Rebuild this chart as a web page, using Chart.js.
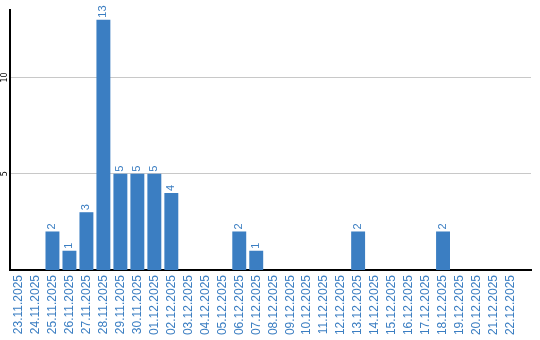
<!DOCTYPE html>
<html>
<head>
<meta charset="utf-8">
<script src="https://cdn.jsdelivr.net/npm/chart.js@4"></script>
<style>
html,body{margin:0;padding:0;background:#fff;}
#wrap{width:540px;height:340px;position:relative;}
</style>
</head>
<body>
<div id="wrap"><canvas id="c"></canvas></div>
<script>
const categories = ["23.11.2025","24.11.2025","25.11.2025","26.11.2025","27.11.2025","28.11.2025","29.11.2025","30.11.2025","01.12.2025","02.12.2025","03.12.2025","04.12.2025","05.12.2025","06.12.2025","07.12.2025","08.12.2025","09.12.2025","10.12.2025","11.12.2025","12.12.2025","13.12.2025","14.12.2025","15.12.2025","16.12.2025","17.12.2025","18.12.2025","19.12.2025","20.12.2025","21.12.2025","22.12.2025"];
const counts = [0,0,2,1,3,13,5,5,5,4,0,0,0,2,1,0,0,0,0,0,2,0,0,0,0,2,0,0,0,0];
const yTicks = [5,10];

const BLUE = '#3b7ec2';
const LABEL_FONT = '"Liberation Sans", Arial, sans-serif';

const barLabels = {
  id: 'barLabels',
  afterDatasetsDraw(chart) {
    const ctx = chart.ctx;
    const meta = chart.getDatasetMeta(0);
    ctx.save();
    ctx.fillStyle = BLUE;
    ctx.font = '11px ' + LABEL_FONT;
    ctx.textAlign = 'left';
    ctx.textBaseline = 'middle';
    meta.data.forEach((bar, i) => {
      const v = counts[i];
      if (!v) return;
      ctx.save();
      ctx.translate(bar.x, bar.y - 2);
      ctx.rotate(-Math.PI / 2);
      ctx.fillText(String(v), 0, 0);
      ctx.restore();
    });
    ctx.restore();
  }
};

new Chart(document.getElementById('c'), {
  type: 'bar',
  data: {
    datasets: [{
      data: counts.map((v, i) => ({x: i, y: v})),
      backgroundColor: BLUE,
      borderWidth: 0,
      categoryPercentage: 1,
      barPercentage: 0.82
    }]
  },
  options: {
    responsive: true,
    maintainAspectRatio: false,
    animation: false,
    layout: {padding: {left: 0, right: 9, top: 10, bottom: 0}},
    plugins: {legend: {display: false}, tooltip: {enabled: false}},
    scales: {
      x: {
        type: 'linear',
        offset: false,
        min: -0.5,
        max: 30.18,
        afterBuildTicks: s => { s.ticks = categories.map((_, i) => ({value: i})); },
        afterFit: s => { s.height = 70; },
        grid: {display: false, drawTicks: false},
        border: {display: true, color: '#000', width: 2},
        ticks: {
          autoSkip: false,
          minRotation: 90,
          maxRotation: 90,
          padding: 5,
          color: BLUE,
          font: {family: LABEL_FONT, size: 12},
          callback: v => categories[v]
        }
      },
      y: {
        min: 0,
        max: 13.5,
        afterBuildTicks: s => { s.ticks = yTicks.map(v => ({value: v})); },
        afterFit: s => { s.width = 10; },
        grid: {color: '#c8c8c8', lineWidth: 1, drawTicks: false},
        border: {display: true, color: '#000', width: 2},
        ticks: {
          minRotation: 90,
          maxRotation: 90,
          crossAlign: 'center',
          padding: 0,
          color: '#000',
          font: {family: '"DejaVu Sans", sans-serif', size: 8}
        }
      }
    }
  },
  plugins: [barLabels]
});
</script>
</body>
</html>
